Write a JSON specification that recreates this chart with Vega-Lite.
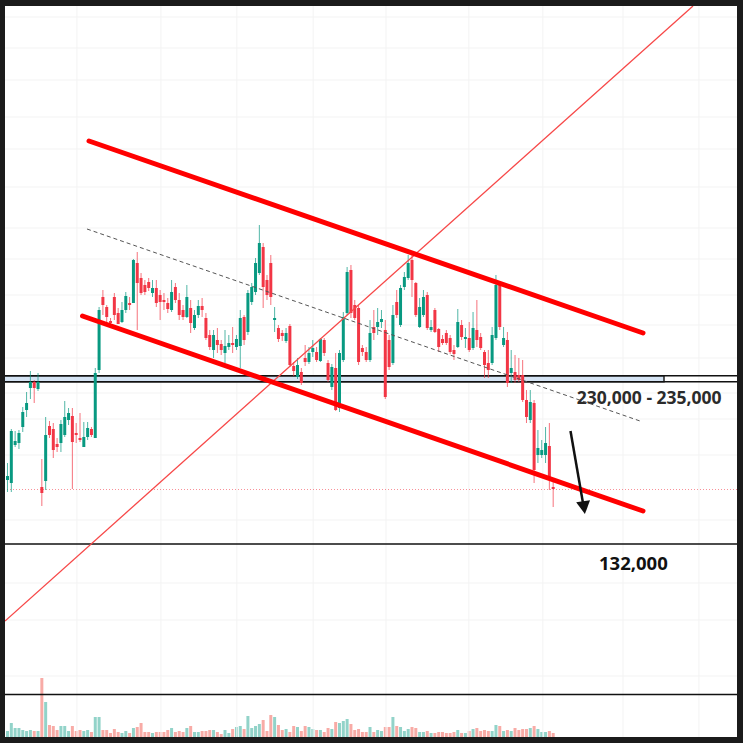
{
"$schema":"https://vega.github.io/schema/vega-lite/v6.json",
"width":743,"height":743,
"autosize":{"type":"fit","contains":"padding"},
"padding":{"left":5,"top":6,"right":6,"bottom":6},
"background":"#1b1b1b",
"config":{"view":{"stroke":null,"fill":"#ffffff"},"axis":{"disable":true},"scale":{"continuousPadding":0}},
"datasets":{
"candles":[
{"i":0,"o":520,"h":537,"l":508,"c":524,"v":6},
{"i":1,"o":517,"h":571,"l":508,"c":569,"v":14},
{"i":2,"o":555,"h":569,"l":553,"c":559,"v":9},
{"i":3,"o":557,"h":570,"l":551,"c":567,"v":9},
{"i":4,"o":573,"h":593,"l":568,"c":588,"v":7},
{"i":5,"o":590,"h":608,"l":583,"c":597,"v":6},
{"i":6,"o":612,"h":629,"l":601,"c":618,"v":7},
{"i":7,"o":618,"h":620,"l":597,"c":612,"v":6},
{"i":8,"o":611,"h":627,"l":609,"c":618,"v":6},
{"i":9,"o":513,"h":541,"l":494,"c":507,"v":59},
{"i":10,"o":519,"h":583,"l":510,"c":565,"v":35},
{"i":11,"o":574,"h":579,"l":562,"c":565,"v":12},
{"i":12,"o":571,"h":577,"l":542,"c":550,"v":11},
{"i":13,"o":556,"h":562,"l":548,"c":553,"v":7},
{"i":14,"o":557,"h":580,"l":548,"c":576,"v":11},
{"i":15,"o":565,"h":599,"l":563,"c":583,"v":11},
{"i":16,"o":580,"h":592,"l":575,"c":587,"v":6},
{"i":17,"o":584,"h":592,"l":511,"c":558,"v":11},
{"i":18,"o":567,"h":577,"l":557,"c":565,"v":6},
{"i":19,"o":562,"h":587,"l":558,"c":560,"v":7},
{"i":20,"o":553,"h":578,"l":553,"c":563,"v":6},
{"i":21,"o":563,"h":578,"l":560,"c":572,"v":7},
{"i":22,"o":571,"h":573,"l":563,"c":565,"v":5},
{"i":23,"o":562,"h":632,"l":562,"c":627,"v":20},
{"i":24,"o":630,"h":693,"l":627,"c":690,"v":20},
{"i":25,"o":703,"h":710,"l":685,"c":695,"v":7},
{"i":26,"o":693,"h":695,"l":676,"c":683,"v":7},
{"i":27,"o":679,"h":682,"l":675,"c":677,"v":4},
{"i":28,"o":703,"h":707,"l":680,"c":685,"v":8},
{"i":29,"o":687,"h":692,"l":676,"c":676,"v":5},
{"i":30,"o":678,"h":698,"l":677,"c":690,"v":4},
{"i":31,"o":690,"h":708,"l":687,"c":704,"v":6},
{"i":32,"o":697,"h":703,"l":690,"c":695,"v":4},
{"i":33,"o":697,"h":741,"l":697,"c":740,"v":9},
{"i":34,"o":737,"h":748,"l":670,"c":717,"v":10},
{"i":35,"o":722,"h":727,"l":705,"c":707,"v":14},
{"i":36,"o":715,"h":720,"l":705,"c":708,"v":5},
{"i":37,"o":718,"h":722,"l":709,"c":712,"v":5},
{"i":38,"o":707,"h":720,"l":703,"c":712,"v":4},
{"i":39,"o":712,"h":720,"l":693,"c":697,"v":5},
{"i":40,"o":705,"h":710,"l":680,"c":698,"v":5},
{"i":41,"o":700,"h":707,"l":690,"c":698,"v":5},
{"i":42,"o":697,"h":702,"l":687,"c":691,"v":7},
{"i":43,"o":690,"h":720,"l":688,"c":708,"v":9},
{"i":44,"o":713,"h":717,"l":697,"c":700,"v":5},
{"i":45,"o":700,"h":707,"l":680,"c":685,"v":6},
{"i":46,"o":690,"h":695,"l":680,"c":683,"v":5},
{"i":47,"o":683,"h":715,"l":682,"c":703,"v":9},
{"i":48,"o":692,"h":700,"l":667,"c":677,"v":11},
{"i":49,"o":672,"h":690,"l":670,"c":685,"v":5},
{"i":50,"o":685,"h":700,"l":682,"c":694,"v":5},
{"i":51,"o":694,"h":702,"l":683,"c":690,"v":6},
{"i":52,"o":682,"h":687,"l":660,"c":662,"v":6},
{"i":53,"o":665,"h":670,"l":650,"c":653,"v":7},
{"i":54,"o":650,"h":670,"l":642,"c":665,"v":7},
{"i":55,"o":660,"h":672,"l":647,"c":655,"v":5},
{"i":56,"o":656,"h":660,"l":645,"c":650,"v":3},
{"i":57,"o":647,"h":670,"l":637,"c":654,"v":7},
{"i":58,"o":653,"h":665,"l":650,"c":657,"v":4},
{"i":59,"o":657,"h":673,"l":647,"c":655,"v":8},
{"i":60,"o":653,"h":665,"l":650,"c":661,"v":10},
{"i":61,"o":654,"h":690,"l":632,"c":682,"v":11},
{"i":62,"o":683,"h":685,"l":655,"c":660,"v":8},
{"i":63,"o":668,"h":710,"l":665,"c":707,"v":21},
{"i":64,"o":698,"h":717,"l":695,"c":713,"v":9},
{"i":65,"o":708,"h":742,"l":705,"c":737,"v":11},
{"i":66,"o":727,"h":775,"l":725,"c":757,"v":13},
{"i":67,"o":753,"h":757,"l":692,"c":713,"v":17},
{"i":68,"o":720,"h":725,"l":700,"c":705,"v":6},
{"i":69,"o":737,"h":745,"l":695,"c":703,"v":22},
{"i":70,"o":680,"h":693,"l":668,"c":682,"v":20},
{"i":71,"o":672,"h":675,"l":658,"c":661,"v":12},
{"i":72,"o":667,"h":670,"l":659,"c":664,"v":7},
{"i":73,"o":659,"h":672,"l":657,"c":667,"v":8},
{"i":74,"o":674,"h":676,"l":633,"c":635,"v":5},
{"i":75,"o":634,"h":638,"l":624,"c":629,"v":11},
{"i":76,"o":623,"h":642,"l":621,"c":635,"v":10},
{"i":77,"o":628,"h":632,"l":615,"c":617,"v":6},
{"i":78,"o":642,"h":655,"l":634,"c":638,"v":11},
{"i":79,"o":638,"h":653,"l":636,"c":647,"v":10},
{"i":80,"o":648,"h":660,"l":643,"c":652,"v":8},
{"i":81,"o":648,"h":653,"l":638,"c":640,"v":7},
{"i":82,"o":639,"h":662,"l":638,"c":661,"v":7},
{"i":83,"o":660,"h":662,"l":644,"c":647,"v":5},
{"i":84,"o":637,"h":640,"l":618,"c":620,"v":9},
{"i":85,"o":613,"h":636,"l":610,"c":633,"v":8},
{"i":86,"o":632,"h":647,"l":589,"c":590,"v":15},
{"i":87,"o":592,"h":650,"l":588,"c":647,"v":14},
{"i":88,"o":640,"h":688,"l":638,"c":683,"v":16},
{"i":89,"o":687,"h":733,"l":685,"c":728,"v":18},
{"i":90,"o":730,"h":735,"l":682,"c":687,"v":13},
{"i":91,"o":695,"h":700,"l":680,"c":682,"v":7},
{"i":92,"o":692,"h":695,"l":635,"c":638,"v":8},
{"i":93,"o":652,"h":655,"l":644,"c":648,"v":5},
{"i":94,"o":648,"h":653,"l":638,"c":640,"v":5},
{"i":95,"o":640,"h":680,"l":638,"c":667,"v":10},
{"i":96,"o":673,"h":690,"l":660,"c":667,"v":5},
{"i":97,"o":673,"h":692,"l":665,"c":678,"v":7},
{"i":98,"o":678,"h":690,"l":672,"c":681,"v":6},
{"i":99,"o":670,"h":680,"l":601,"c":603,"v":10},
{"i":100,"o":660,"h":665,"l":630,"c":633,"v":10},
{"i":101,"o":637,"h":695,"l":635,"c":685,"v":20},
{"i":102,"o":698,"h":710,"l":682,"c":685,"v":11},
{"i":103,"o":675,"h":715,"l":673,"c":712,"v":10},
{"i":104,"o":713,"h":728,"l":710,"c":723,"v":6},
{"i":105,"o":722,"h":745,"l":720,"c":737,"v":8},
{"i":106,"o":740,"h":745,"l":703,"c":720,"v":10},
{"i":107,"o":717,"h":718,"l":683,"c":685,"v":9},
{"i":108,"o":673,"h":702,"l":672,"c":693,"v":5},
{"i":109,"o":685,"h":710,"l":683,"c":703,"v":5},
{"i":110,"o":705,"h":708,"l":670,"c":672,"v":6},
{"i":111,"o":670,"h":680,"l":668,"c":673,"v":4},
{"i":112,"o":690,"h":692,"l":667,"c":668,"v":4},
{"i":113,"o":671,"h":672,"l":648,"c":653,"v":5},
{"i":114,"o":661,"h":665,"l":655,"c":657,"v":5},
{"i":115,"o":667,"h":670,"l":655,"c":657,"v":4},
{"i":116,"o":662,"h":665,"l":646,"c":648,"v":4},
{"i":117,"o":650,"h":655,"l":640,"c":646,"v":5},
{"i":118,"o":653,"h":691,"l":652,"c":678,"v":7},
{"i":119,"o":675,"h":680,"l":660,"c":663,"v":4},
{"i":120,"o":661,"h":672,"l":652,"c":663,"v":4},
{"i":121,"o":662,"h":678,"l":648,"c":650,"v":6},
{"i":122,"o":652,"h":688,"l":650,"c":672,"v":8},
{"i":123,"o":670,"h":700,"l":653,"c":660,"v":9},
{"i":124,"o":663,"h":667,"l":650,"c":652,"v":6},
{"i":125,"o":648,"h":650,"l":622,"c":635,"v":7},
{"i":126,"o":637,"h":650,"l":622,"c":630,"v":6},
{"i":127,"o":637,"h":673,"l":635,"c":665,"v":6},
{"i":128,"o":662,"h":725,"l":660,"c":715,"v":12},
{"i":129,"o":715,"h":717,"l":670,"c":673,"v":11},
{"i":130,"o":655,"h":673,"l":653,"c":662,"v":6},
{"i":131,"o":660,"h":668,"l":613,"c":617,"v":7},
{"i":132,"o":627,"h":650,"l":617,"c":632,"v":6},
{"i":133,"o":628,"h":645,"l":617,"c":620,"v":9},
{"i":134,"o":625,"h":642,"l":618,"c":620,"v":7},
{"i":135,"o":625,"h":640,"l":598,"c":600,"v":8},
{"i":136,"o":600,"h":610,"l":577,"c":583,"v":8},
{"i":137,"o":580,"h":610,"l":577,"c":598,"v":9},
{"i":138,"o":597,"h":600,"l":517,"c":530,"v":11},
{"i":139,"o":545,"h":570,"l":537,"c":552,"v":8},
{"i":140,"o":545,"h":560,"l":542,"c":550,"v":5},
{"i":141,"o":545,"h":573,"l":537,"c":557,"v":5},
{"i":142,"o":554,"h":577,"l":510,"c":520,"v":6},
{"i":143,"o":513,"h":520,"l":493,"c":511,"v":4}
],
"gridx":[{"g":18.2},{"g":40.2},{"g":60.1},{"g":80.1},{"g":99.2},{"g":120.9},{"g":140.3},{"g":161.3},{"g":181.2}],
"gridy":[{"g":983},{"g":952},{"g":920},{"g":883},{"g":851},{"g":813},{"g":772},{"g":741},{"g":705},{"g":675},{"g":642},{"g":607},{"g":581},{"g":545},{"g":480},{"g":417},{"g":380},{"g":324}],
"lines":[
{"name":"upper","x1":21.36,"p1":859,"x2":166.54,"p2":667},
{"name":"lower","x1":19.65,"p1":684,"x2":166.54,"p2":489},
{"name":"trend","x1":-0.655,"p1":379,"x2":179.64,"p2":994},
{"name":"mid","x1":20.83,"p1":771,"x2":165.75,"p2":579},
{"name":"arrow","x1":147.54,"p1":569,"x2":150.81,"p2":497}
],
"levels":[
{"name":"zone_top","p":624.3},
{"name":"zone_bottom","p":618.3},
{"name":"target","p":456},
{"name":"pane","p":305.5},
{"name":"last","p":510.5}
],
"zone":[{"x1":-1,"x2":172.04,"p1":618.3,"p2":624.3}],
"labels":[
{"t":"230,000 - 235,000","x":149.2,"p":596.5},
{"t":"132,000","x":155.0,"p":430}
]
},
"layer":[
{
"data":{"name":"candles"},
"mark":{"type":"bar","width":3,"clip":true},
"encoding":{
"x":{"field":"i","type":"quantitative","scale":{"domain":[-0.655,191.17],"nice":false,"zero":false,"padding":0}},
"y":{"field":"v","type":"quantitative","scale":{"domain":[0,731],"nice":false,"zero":true,"padding":0}},
"color":{"condition":{"test":"datum.c >= datum.o","value":"#92d3c9"},"value":"#f8aba6"}
}
},
{
"layer":[
{"data":{"name":"gridx"},"mark":{"type":"rule","color":"#f3f3f3","strokeWidth":1,"clip":true},
"encoding":{"x":{"field":"g","type":"quantitative","scale":{"domain":[-0.655,191.17],"nice":false,"zero":false,"padding":0}}}},
{"data":{"name":"gridy"},"mark":{"type":"rule","color":"#f3f3f3","strokeWidth":1,"clip":true},
"encoding":{"y":{"field":"g","type":"quantitative","scale":{"domain":[263,994],"nice":false,"zero":false,"padding":0}}}},
{"data":{"name":"zone"},"mark":{"type":"rect","fill":"#d4e3f3","stroke":"#222222","strokeWidth":1.5,"clip":true},
"encoding":{
"x":{"field":"x1","type":"quantitative","scale":{"domain":[-0.655,191.17],"nice":false,"zero":false,"padding":0}},"x2":{"field":"x2"},
"y":{"field":"p1","type":"quantitative","scale":{"domain":[263,994],"nice":false,"zero":false,"padding":0}},"y2":{"field":"p2"}}},
{"data":{"name":"levels"},"transform":[{"filter":"datum.name !== 'last'"}],"mark":{"type":"rule","color":"#111111","strokeWidth":1.6,"clip":true},
"encoding":{"y":{"field":"p","type":"quantitative","scale":{"domain":[263,994],"nice":false,"zero":false,"padding":0}}}},
{"data":{"name":"levels"},"transform":[{"filter":"datum.name === 'last'"}],"mark":{"type":"rule","color":"#f23645","opacity":0.55,"strokeWidth":1,"strokeDash":[1,2],"clip":true},
"encoding":{"y":{"field":"p","type":"quantitative","scale":{"domain":[263,994],"nice":false,"zero":false,"padding":0}}}},
{"data":{"name":"candles"},"mark":{"type":"rule","strokeWidth":1,"opacity":0.7,"clip":true},
"encoding":{
"x":{"field":"i","type":"quantitative","scale":{"domain":[-0.655,191.17],"nice":false,"zero":false,"padding":0}},
"y":{"field":"l","type":"quantitative","scale":{"domain":[263,994],"nice":false,"zero":false,"padding":0}},"y2":{"field":"h"},
"color":{"condition":{"test":"datum.c >= datum.o","value":"#089981"},"value":"#f23645"}}},
{"data":{"name":"candles"},"mark":{"type":"bar","width":3,"clip":true},
"encoding":{
"x":{"field":"i","type":"quantitative","scale":{"domain":[-0.655,191.17],"nice":false,"zero":false,"padding":0}},
"y":{"field":"o","type":"quantitative","scale":{"domain":[263,994],"nice":false,"zero":false,"padding":0}},"y2":{"field":"c"},
"color":{"condition":{"test":"datum.c >= datum.o","value":"#089981"},"value":"#f23645"}}},
{"data":{"name":"labels"},"transform":[{"filter":"datum.t === '230,000 - 235,000'"}],
"mark":{"type":"text","align":"left","baseline":"alphabetic","font":"Open Sans","fontSize":17.5,"fontWeight":"bold","color":"#2b2b2b","clip":true},
"encoding":{"x":{"field":"x","type":"quantitative","scale":{"domain":[-0.655,191.17],"nice":false,"zero":false,"padding":0}},
"y":{"field":"p","type":"quantitative","scale":{"domain":[263,994],"nice":false,"zero":false,"padding":0}},"text":{"field":"t"}}},
{"data":{"name":"labels"},"transform":[{"filter":"datum.t === '132,000'"}],
"mark":{"type":"text","align":"left","baseline":"alphabetic","font":"Open Sans","fontSize":18.5,"fontWeight":"bold","color":"#111111","clip":true},
"encoding":{"x":{"field":"x","type":"quantitative","scale":{"domain":[-0.655,191.17],"nice":false,"zero":false,"padding":0}},
"y":{"field":"p","type":"quantitative","scale":{"domain":[263,994],"nice":false,"zero":false,"padding":0}},"text":{"field":"t"}}},
{"data":{"name":"lines"},"transform":[{"filter":"datum.name === 'trend'"}],"mark":{"type":"rule","color":"#f74848","strokeWidth":1.3,"clip":true},
"encoding":{"x":{"field":"x1","type":"quantitative","scale":{"domain":[-0.655,191.17],"nice":false,"zero":false,"padding":0}},"x2":{"field":"x2"},
"y":{"field":"p1","type":"quantitative","scale":{"domain":[263,994],"nice":false,"zero":false,"padding":0}},"y2":{"field":"p2"}}},
{"data":{"name":"lines"},"transform":[{"filter":"datum.name === 'mid'"}],"mark":{"type":"rule","color":"#555555","strokeWidth":1,"strokeDash":[4,3],"clip":true},
"encoding":{"x":{"field":"x1","type":"quantitative","scale":{"domain":[-0.655,191.17],"nice":false,"zero":false,"padding":0}},"x2":{"field":"x2"},
"y":{"field":"p1","type":"quantitative","scale":{"domain":[263,994],"nice":false,"zero":false,"padding":0}},"y2":{"field":"p2"}}},
{"data":{"name":"lines"},"transform":[{"filter":"datum.name === 'upper' || datum.name === 'lower'"}],"mark":{"type":"rule","color":"#ff0000","strokeWidth":5,"strokeCap":"round","clip":true},
"encoding":{"x":{"field":"x1","type":"quantitative","scale":{"domain":[-0.655,191.17],"nice":false,"zero":false,"padding":0}},"x2":{"field":"x2"},
"y":{"field":"p1","type":"quantitative","scale":{"domain":[263,994],"nice":false,"zero":false,"padding":0}},"y2":{"field":"p2"}}},
{"data":{"name":"lines"},"transform":[{"filter":"datum.name === 'arrow'"}],"mark":{"type":"rule","color":"#111111","strokeWidth":2.5,"clip":true},
"encoding":{"x":{"field":"x1","type":"quantitative","scale":{"domain":[-0.655,191.17],"nice":false,"zero":false,"padding":0}},"x2":{"field":"x2"},
"y":{"field":"p1","type":"quantitative","scale":{"domain":[263,994],"nice":false,"zero":false,"padding":0}},"y2":{"field":"p2"}}},
{"data":{"values":[{"x":151.07,"p":492.5}]},"mark":{"type":"point","shape":"M-1,-0.9L1,-0.9L0,0.95Z","filled":true,"color":"#111111","opacity":1,"size":196,"angle":-8,"clip":true},
"encoding":{"x":{"field":"x","type":"quantitative","scale":{"domain":[-0.655,191.17],"nice":false,"zero":false,"padding":0}},
"y":{"field":"p","type":"quantitative","scale":{"domain":[263,994],"nice":false,"zero":false,"padding":0}}}}
]
}
],
"resolve":{"scale":{"y":"independent"}}
}
